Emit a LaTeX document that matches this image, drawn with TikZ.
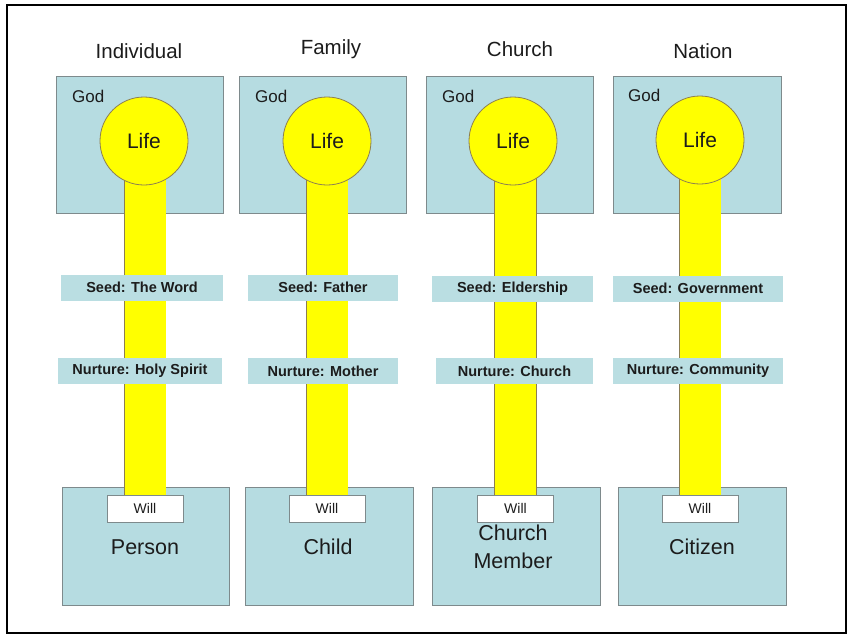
\documentclass[tikz,border=0pt]{standalone}
\usepackage{fontspec}
\setmainfont{Liberation Sans}

\pgfdeclarelayer{boxes}
\pgfdeclarelayer{stem}
\pgfsetlayers{boxes,stem,main}

\definecolor{panel}{HTML}{B6DCE1}
\definecolor{tag}{HTML}{BADEE2}
\definecolor{edge}{HTML}{7E8A8C}
\definecolor{lifefill}{HTML}{FFFF00}
\definecolor{lifeedge}{HTML}{8C7E52}
\definecolor{ink}{HTML}{1C1C1C}

\tikzset{
  panelbox/.style={draw=edge, fill=panel, line width=0.9pt, inner sep=0pt},
  lifecircle/.style={circle, draw=lifeedge, fill=lifefill, line width=0.8pt,
    minimum size=88pt, inner sep=0pt, font=\fontsize{21}{25}\selectfont},
  tagbox/.style={fill=tag, inner sep=0pt, minimum height=26pt,
    font=\bfseries\fontsize{14.5}{17}\selectfont},
  willbox/.style={draw=edge, fill=white, line width=0.9pt, minimum width=76pt,
    minimum height=27pt, inner sep=0pt, font=\fontsize{14}{16}\selectfont},
  heading/.style={font=\fontsize{20.5}{24}\selectfont},
  godlabel/.style={anchor=west, inner sep=0pt, font=\fontsize{17}{20}\selectfont},
  role/.style={align=center, inner sep=0pt, font=\fontsize{21.5}{28}\selectfont},
  stembar/.style={draw=lifeedge, line width=0.8pt, double=lifefill, double distance=41pt}
}

\begin{document}
\begin{tikzpicture}[x=1pt, y=-1pt, every node/.append style={text=ink}]
  \useasboundingbox (0,0) rectangle (848,637);

  % upper and lower panels, on the bottom layer
  \begin{pgfonlayer}{boxes}
    \fill[white] (0,0) rectangle (848,637);

    \node[panelbox, minimum width=167pt, minimum height=137pt] (god1) at (139.5,144.5) {};
    \node[panelbox, minimum width=167pt, minimum height=137pt] (god2) at (322.5,144.5) {};
    \node[panelbox, minimum width=167pt, minimum height=137pt] (god3) at (509.5,145) {};
    \node[panelbox, minimum width=168pt, minimum height=137pt] (god4) at (697,144.5) {};

    \node[panelbox, minimum width=167pt, minimum height=118pt] (base1) at (145.5,546) {};
    \node[panelbox, minimum width=168pt, minimum height=118pt] (base2) at (329,546.5) {};
    \node[panelbox, minimum width=168pt, minimum height=118pt] (base3) at (516,546) {};
    \node[panelbox, minimum width=168pt, minimum height=118pt] (base4) at (702,546.5) {};
  \end{pgfonlayer}

  \draw[line width=2pt] (7,5) rectangle (846,633);

  % column headings
  \node[heading] (h1) at (139,51) {Individual};
  \node[heading] (h2) at (331,49) {Family};
  \node[heading] (h3) at (520,49) {Church};
  \node[heading] (h4) at (703,51) {Nation};

  \node[godlabel] (g1) at (72,96) {God};
  \node[godlabel] (g2) at (255,96) {God};
  \node[godlabel] (g3) at (442,96) {God};
  \node[godlabel] (g4) at (628,95) {God};

  % Life circles
  \node[lifecircle] (life1) at (144,141) {Life};
  \node[lifecircle] (life2) at (327,141) {Life};
  \node[lifecircle] (life3) at (513,141) {Life};
  \node[lifecircle] (life4) at (700,140) {Life};

  % Seed and Nurture tags
  \node[tagbox, minimum width=162pt] (seed1) at (142,287.5) {Seed: The Word};
  \node[tagbox, minimum width=150pt] (seed2) at (323,287.5) {Seed: Father};
  \node[tagbox, minimum width=161pt] (seed3) at (512.5,288.5) {Seed: Eldership};
  \node[tagbox, minimum width=170pt] (seed4) at (698,288.5) {Seed: Government};

  \node[tagbox, minimum width=164pt] (nur1) at (140,371) {Nurture: Holy Spirit};
  \node[tagbox, minimum width=150pt] (nur2) at (323,371) {Nurture: Mother};
  \node[tagbox, minimum width=157pt] (nur3) at (514.5,371) {Nurture: Church};
  \node[tagbox, minimum width=170pt] (nur4) at (698,371) {Nurture: Community};

  % Will boxes
  \node[willbox] (will1) at (145,508.5) {Will};
  \node[willbox] (will2) at (327,508.5) {Will};
  \node[willbox] (will3) at (515.5,508.5) {Will};
  \node[willbox] (will4) at (700,508.5) {Will};

  % names in the lower panels
  \node[role] (r1) at (145,547) {Person};
  \node[role] (r2) at (328,547) {Child};
  \node[role] (r3) at (513,547) {Church\\Member};
  \node[role] (r4) at (702,547) {Citizen};

  % yellow stems from Life down to Will
  \begin{pgfonlayer}{stem}
    \foreach \i in {1,...,4}
      \draw[stembar] (will\i.center |- life\i.center) -- (will\i.center);
  \end{pgfonlayer}
\end{tikzpicture}
\end{document}
